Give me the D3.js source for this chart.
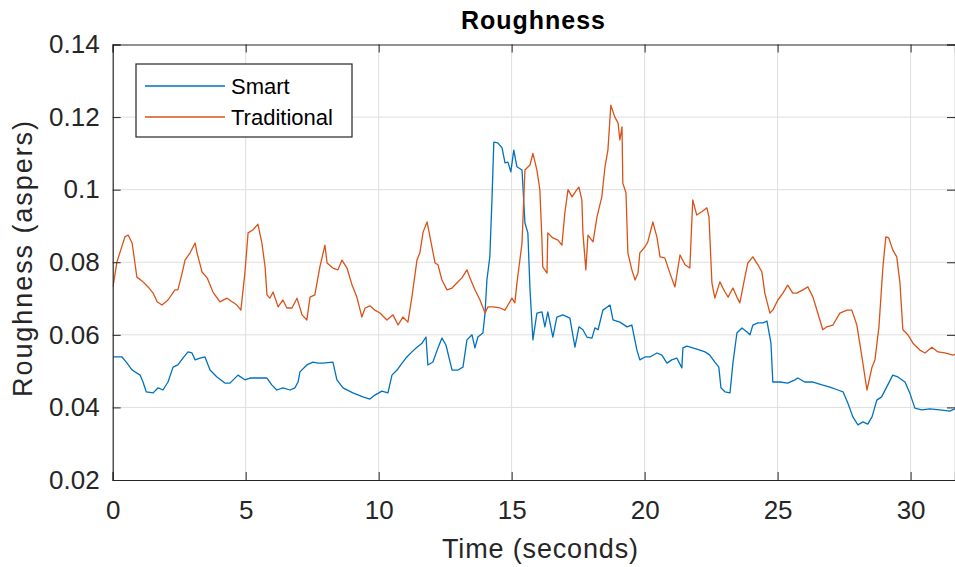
<!DOCTYPE html>
<html lang="en">
<head>
    <meta charset="UTF-8">
    <title>Roughness</title>
    <script src="https://d3js.org/d3.v7.min.js"></script>
    <style>
        body { margin: 0; background: #fff; }
        svg { display: block; font-family: "Liberation Sans", Arial, Helvetica, sans-serif; }
        .grid line { stroke: #dedede; stroke-width: 1; }
        .axis-line { stroke: #262626; stroke-width: 1.2; fill: none; }
        .tick-label { fill: #262626; font-size: 26px; }
    </style>
</head>
<body>
    <div id="chart"></div>

    <script>
        // Roughness over time
        const seriesNames = ["Smart", "Traditional"];
        const seriesColors = ["#0072BD", "#D95319"];

        const smartTime = [0.01, 0.35, 0.54, 0.73, 1.03, 1.14, 1.26, 1.52, 1.71, 1.89, 2.08, 2.27, 2.45, 2.64, 2.83, 2.98, 3.10, 3.28, 3.47, 3.66,
            3.92, 4.22, 4.41, 4.71, 4.97, 5.16, 5.52, 5.80, 5.98, 6.17, 6.40, 6.67, 6.85, 6.97, 7.04, 7.30, 7.53, 7.72, 7.90, 8.28,
            8.43, 8.66, 9.03, 9.41, 9.67, 9.86, 10.12, 10.35, 10.50, 10.69, 10.88, 11.06, 11.25, 11.44, 11.63, 11.78, 11.85, 12.04, 12.23, 12.38,
            12.53, 12.76, 12.98, 13.17, 13.32, 13.51, 13.62, 13.73, 13.92, 14.00, 14.07, 14.18, 14.26, 14.33, 14.48, 14.64, 14.75, 14.86, 14.97, 15.08,
            15.20, 15.39, 15.50, 15.61, 15.69, 15.80, 15.95, 16.14, 16.25, 16.36, 16.55, 16.70, 16.93, 17.19, 17.38, 17.53, 17.68, 17.83, 18.02, 18.13,
            18.25, 18.43, 18.70, 18.81, 19.07, 19.34, 19.52, 19.71, 19.82, 20.01, 20.20, 20.46, 20.65, 20.84, 21.02, 21.21, 21.40, 21.44, 21.59, 21.81,
            22.08, 22.27, 22.45, 22.64, 22.79, 22.87, 23.02, 23.21, 23.32, 23.47, 23.66, 23.85, 23.96, 24.07, 24.26, 24.45, 24.60, 24.75, 24.82, 25.09,
            25.38, 25.65, 25.76, 26.02, 26.33, 26.67, 26.97, 27.27, 27.46, 27.64, 27.83, 28.02, 28.21, 28.39, 28.55, 28.73, 28.91, 29.10, 29.33, 29.52,
            29.79, 29.97, 30.16, 30.42, 30.72, 31.10, 31.47, 31.67];
        const smartValues = [0.0539, 0.0539, 0.0522, 0.0503, 0.0489, 0.0470, 0.0443, 0.0440, 0.0454, 0.0448, 0.0470, 0.0511, 0.0517, 0.0536, 0.0553, 0.0550, 0.0531, 0.0536, 0.0539, 0.0503,
            0.0484, 0.0467, 0.0467, 0.0489, 0.0476, 0.0481, 0.0481, 0.0481, 0.0462, 0.0448, 0.0454, 0.0448, 0.0454, 0.0470, 0.0498, 0.0517, 0.0525, 0.0522, 0.0522, 0.0525,
            0.0476, 0.0454, 0.0440, 0.0429, 0.0423, 0.0434, 0.0445, 0.0440, 0.0489, 0.0503, 0.0522, 0.0539, 0.0553, 0.0566, 0.0577, 0.0594, 0.0517, 0.0525, 0.0564, 0.0591,
            0.0572, 0.0503, 0.0503, 0.0511, 0.0586, 0.0600, 0.0564, 0.0594, 0.0605, 0.0660, 0.0751, 0.0815, 0.0972, 0.1131, 0.1129, 0.1115, 0.1074, 0.1076, 0.1049, 0.1109,
            0.1063, 0.1054, 0.0908, 0.0881, 0.0724, 0.0586, 0.0660, 0.0663, 0.0622, 0.0663, 0.0594, 0.0649, 0.0655, 0.0646, 0.0566, 0.0622, 0.0614, 0.0594, 0.0591, 0.0619,
            0.0614, 0.0668, 0.0682, 0.0641, 0.0635, 0.0622, 0.0627, 0.0558, 0.0531, 0.0539, 0.0539, 0.0550, 0.0544, 0.0522, 0.0531, 0.0536, 0.0509, 0.0564, 0.0569, 0.0564,
            0.0558, 0.0553, 0.0544, 0.0525, 0.0511, 0.0454, 0.0443, 0.0440, 0.0522, 0.0605, 0.0619, 0.0608, 0.0600, 0.0627, 0.0633, 0.0633, 0.0638, 0.0577, 0.0470, 0.0470,
            0.0467, 0.0476, 0.0481, 0.0470, 0.0470, 0.0462, 0.0456, 0.0448, 0.0443, 0.0412, 0.0374, 0.0352, 0.0360, 0.0354, 0.0374, 0.0420, 0.0429, 0.0456, 0.0489, 0.0484,
            0.0470, 0.0440, 0.0398, 0.0393, 0.0396, 0.0393, 0.0390, 0.0396];

        const tradTime = [0.01, 0.16, 0.46, 0.58, 0.73, 0.91, 1.14, 1.33, 1.52, 1.67, 1.85, 2.08, 2.34, 2.45, 2.61, 2.72, 2.91, 3.10, 3.17, 3.36,
            3.55, 3.77, 4.03, 4.30, 4.49, 4.67, 4.82, 4.97, 5.09, 5.27, 5.46, 5.61, 5.73, 5.80, 5.91, 6.03, 6.22, 6.40, 6.55, 6.74,
            6.93, 7.12, 7.30, 7.42, 7.60, 7.79, 7.98, 8.06, 8.28, 8.47, 8.62, 8.81, 9.00, 9.18, 9.37, 9.49, 9.67, 9.86, 10.05, 10.31,
            10.54, 10.73, 10.91, 11.10, 11.25, 11.44, 11.55, 11.67, 11.82, 11.93, 12.12, 12.23, 12.38, 12.57, 12.76, 12.94, 13.13, 13.32, 13.43, 13.62,
            13.81, 14.00, 14.11, 14.30, 14.56, 14.75, 15.01, 15.12, 15.20, 15.39, 15.50, 15.69, 15.80, 15.95, 16.06, 16.14, 16.17, 16.33, 16.36, 16.55,
            16.74, 16.89, 17.00, 17.12, 17.27, 17.45, 17.53, 17.64, 17.68, 17.79, 17.87, 18.06, 18.21, 18.39, 18.51, 18.62, 18.73, 18.88, 19.00, 19.07,
            19.15, 19.18, 19.30, 19.37, 19.52, 19.64, 19.75, 19.82, 20.01, 20.12, 20.31, 20.46, 20.58, 20.76, 20.95, 21.14, 21.33, 21.52, 21.70, 21.81,
            21.96, 22.15, 22.34, 22.42, 22.53, 22.64, 22.83, 23.02, 23.14, 23.32, 23.47, 23.58, 23.77, 23.88, 24.07, 24.26, 24.41, 24.52, 24.71, 24.82,
            25.01, 25.20, 25.38, 25.57, 25.72, 25.95, 26.14, 26.33, 26.51, 26.70, 26.85, 27.08, 27.34, 27.61, 27.79, 27.98, 28.17, 28.36, 28.55, 28.66,
            28.81, 28.96, 29.07, 29.18, 29.33, 29.48, 29.60, 29.71, 29.90, 30.09, 30.35, 30.54, 30.80, 31.03, 31.29, 31.59, 31.67];
        const tradValues = [0.0732, 0.0801, 0.0870, 0.0875, 0.0853, 0.0759, 0.0746, 0.0732, 0.0715, 0.0691, 0.0682, 0.0696, 0.0724, 0.0724, 0.0770, 0.0806, 0.0826, 0.0853, 0.0826, 0.0773,
            0.0757, 0.0718, 0.0691, 0.0701, 0.0691, 0.0682, 0.0668, 0.0770, 0.0881, 0.0889, 0.0905, 0.0853, 0.0787, 0.0710, 0.0701, 0.0718, 0.0677, 0.0696, 0.0674, 0.0674,
            0.0701, 0.0655, 0.0641, 0.0704, 0.0710, 0.0787, 0.0847, 0.0798, 0.0784, 0.0779, 0.0806, 0.0784, 0.0737, 0.0704, 0.0649, 0.0674, 0.0680, 0.0668, 0.0660, 0.0641,
            0.0655, 0.0627, 0.0649, 0.0635, 0.0704, 0.0806, 0.0826, 0.0883, 0.0911, 0.0870, 0.0798, 0.0793, 0.0751, 0.0724, 0.0729, 0.0743, 0.0757, 0.0779, 0.0757, 0.0724,
            0.0696, 0.0660, 0.0677, 0.0677, 0.0674, 0.0668, 0.0701, 0.0688, 0.0743, 0.0853, 0.1054, 0.1068, 0.1100, 0.1054, 0.1000, 0.0861, 0.0787, 0.0770, 0.0881, 0.0867,
            0.0861, 0.0847, 0.0936, 0.1000, 0.0980, 0.1000, 0.1007, 0.0972, 0.0881, 0.0779, 0.0875, 0.0856, 0.0925, 0.0980, 0.1063, 0.1109, 0.1233, 0.1200, 0.1184, 0.1137,
            0.1173, 0.1018, 0.0991, 0.0826, 0.0779, 0.0751, 0.0770, 0.0826, 0.0842, 0.0856, 0.0911, 0.0870, 0.0815, 0.0812, 0.0770, 0.0732, 0.0820, 0.0793, 0.0784, 0.0972,
            0.0930, 0.0939, 0.0950, 0.0925, 0.0743, 0.0701, 0.0746, 0.0718, 0.0704, 0.0729, 0.0704, 0.0688, 0.0759, 0.0798, 0.0815, 0.0793, 0.0773, 0.0715, 0.0660, 0.0668,
            0.0696, 0.0715, 0.0737, 0.0715, 0.0715, 0.0724, 0.0732, 0.0704, 0.0660, 0.0614, 0.0622, 0.0627, 0.0660, 0.0668, 0.0668, 0.0627, 0.0539, 0.0448, 0.0511, 0.0531,
            0.0622, 0.0787, 0.0870, 0.0867, 0.0834, 0.0815, 0.0743, 0.0614, 0.0600, 0.0577, 0.0558, 0.0550, 0.0566, 0.0553, 0.0550, 0.0544, 0.0546];

        const timeTicks = [0, 5, 10, 15, 20, 25, 30];
        const roughTicks = [0.02, 0.04, 0.06, 0.08, 0.1, 0.12, 0.14];

        const W = 955, H = 567;
        const margin = { top: 44.5, right: 0, bottom: 87, left: 112.7 };
        const width = W - margin.left - margin.right;
        const height = H - margin.top - margin.bottom;

        const svg = d3.select("#chart")
            .append("svg")
            .attr("width", W)
            .attr("height", H);

        const g = svg.append("g")
            .attr("transform", `translate(${margin.left},${margin.top})`);

        const x = d3.scaleLinear().domain([0, 31.67]).range([0, width]);
        const y = d3.scaleLinear().domain([0.02, 0.14]).range([height, 0]);

        // grid
        g.append("g").attr("class", "grid")
            .selectAll("line").data(timeTicks.slice(1)).enter().append("line")
            .attr("x1", d => x(d)).attr("x2", d => x(d))
            .attr("y1", 0).attr("y2", height);
        g.append("g").attr("class", "grid")
            .selectAll("line").data(roughTicks.slice(1, -1)).enter().append("line")
            .attr("x1", 0).attr("x2", width)
            .attr("y1", d => y(d)).attr("y2", d => y(d));

        // lines
        g.append("clipPath").attr("id", "plotClip")
            .append("rect").attr("width", width).attr("height", height);

        const line = d3.line()
            .x(d => x(d[0]))
            .y(d => y(d[1]));

        const series = [
            d3.zip(smartTime, smartValues),
            d3.zip(tradTime, tradValues)
        ];

        series.forEach((pts, i) => {
            g.append("path")
                .datum(pts)
                .attr("clip-path", "url(#plotClip)")
                .attr("fill", "none")
                .attr("stroke", seriesColors[i])
                .attr("stroke-width", 1.3)
                .attr("stroke-linejoin", "round")
                .attr("d", line);
        });

        // axes: MATLAB style, ticks inside on all four sides
        const tickLen = 8;
        const bottomAxis = d3.axisBottom(x).tickValues(timeTicks).tickSize(-tickLen).tickPadding(21).tickFormat(d3.format("d"));
        const leftAxis = d3.axisLeft(y).tickValues(roughTicks).tickSize(-tickLen).tickPadding(13).tickFormat(d => d === 0.1 ? "0.1" : d3.format(".2f")(d));

        const bx = g.append("g").attr("transform", `translate(0,${height})`).call(bottomAxis);
        const ly = g.append("g").call(leftAxis);
        const tx = g.append("g").call(d3.axisTop(x).tickValues(timeTicks).tickSize(-tickLen).tickFormat(""));
        const ry = g.append("g").attr("transform", `translate(${width},0)`)
            .call(d3.axisRight(y).tickValues(roughTicks).tickSize(-tickLen).tickFormat(""));

        [bx, ly, tx, ry].forEach(a => {
            a.select(".domain").attr("class", "axis-line");
            a.selectAll(".tick line").attr("stroke", "#262626");
        });
        [bx, ly].forEach(a => {
            a.selectAll(".tick text")
                .attr("class", "tick-label")
                .attr("font-family", null)
                .attr("font-size", null);
        });

        // title and axis labels
        svg.append("text")
            .attr("x", 533)
            .attr("y", 29)
            .attr("text-anchor", "middle")
            .attr("font-size", "25px")
            .attr("font-weight", "bold")
            .attr("textLength", 144)
            .attr("fill", "#000")
            .text("Roughness");

        svg.append("text")
            .attr("x", 540)
            .attr("y", 558)
            .attr("text-anchor", "middle")
            .attr("font-size", "27px")
            .attr("textLength", 196)
            .attr("fill", "#262626")
            .text("Time (seconds)");

        svg.append("text")
            .attr("transform", `translate(32,259) rotate(-90)`)
            .attr("text-anchor", "middle")
            .attr("font-size", "27px")
            .attr("textLength", 276)
            .attr("fill", "#262626")
            .text("Roughness (aspers)");

        // legend
        const legend = g.append("g").attr("transform", `translate(${136 - margin.left},${64 - margin.top})`);
        legend.append("rect")
            .attr("width", 216).attr("height", 73)
            .attr("fill", "#fff")
            .attr("stroke", "#262626")
            .attr("stroke-width", 1.2);

        seriesNames.forEach((name, i) => {
            const ly0 = 22 + i * 31;
            legend.append("line")
                .attr("x1", 9).attr("x2", 89)
                .attr("y1", ly0).attr("y2", ly0)
                .attr("stroke", seriesColors[i])
                .attr("stroke-width", 1.3);
            legend.append("text")
                .attr("x", 95).attr("y", ly0 + 8)
                .attr("font-size", "22px")
                .attr("fill", "#000")
                .text(name);
        });
    </script>
</body>
</html>
